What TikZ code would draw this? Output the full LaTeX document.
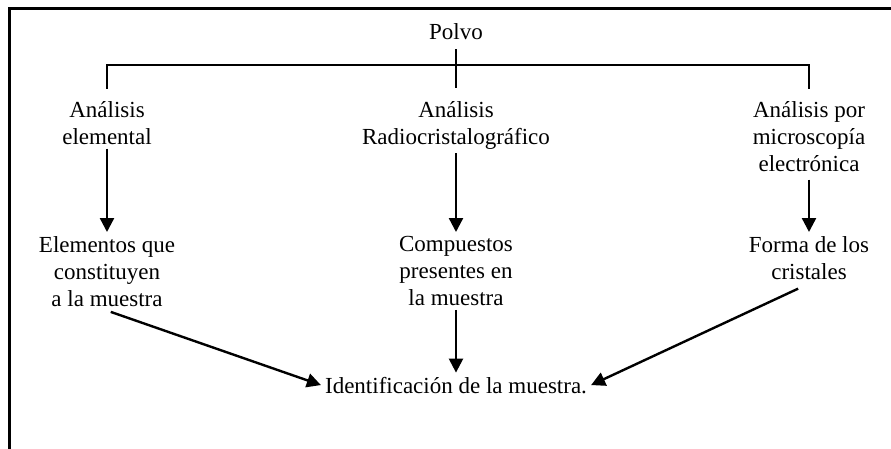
\documentclass[tikz,border=0pt]{standalone}
\usepackage{fontspec}
\setmainfont{Liberation Serif}
\usetikzlibrary{arrows.meta}
\tikzstyle{textnode} = [
    align=center,              % Centered lines
    inner sep=4pt,             % Gap to the arrows
    font=\fontsize{23}{27}\selectfont
]
\tikzstyle{arrow} = [line width=2.4pt, -{Triangle[length=14pt,width=14pt]}]
\tikzstyle{link} = [line width=2pt]
\begin{document}
\begin{tikzpicture}[x=1pt, y=-1pt]
		\useasboundingbox (0,0) rectangle (891,449);

		% Frame
		\draw[line width=3pt] (891,9) -- (9,9) -- (9,449);

		% Top-level sample
		\node[textnode, anchor=base] (polvo) at (456,40) {Polvo};

		% Analysis methods
		\node[textnode, anchor=north] (elem) at (107,97) {Análisis\\elemental};
		\node[textnode, anchor=north] (radio) at (456,97) {Análisis\\Radiocristalográfico};
		\node[textnode, anchor=north] (micro) at (809,97) {Análisis por\\microscopía\\electrónica};

		% Results
		\node[textnode, anchor=north] (elemres) at (107,232) {Elementos que\\constituyen\\a la muestra};
		\node[textnode, anchor=north] (radiores) at (456,232) {Compuestos\\presentes en\\la muestra};
		\node[textnode, anchor=north] (microres) at (809,232) {Forma de los\\cristales};

		% Identification
		\node[textnode, anchor=base] (ident) at (456,393) {Identificación de la muestra.};

		% Arrows
		\draw[link, shorten <=5pt, shorten >=9pt] (polvo.south) -- (polvo.south |- radio.north);
		\draw[link, shorten <=8pt, shorten >=8pt] (elem.north) -- ++(0,-32) -| (micro.north);

		\draw[arrow] (elem.south) -- (elemres.north);
		\draw[arrow] (radio.south) -- (radiores.north);
		\draw[arrow, shorten <=4pt] (micro.south) -- (microres.north);

		\draw[arrow, shorten <=4pt] (elemres.south) -- (ident.west);
		\draw[arrow] (radiores.south) -- (radiores.south |- ident.north);
		\draw[arrow, shorten <=12pt] (microres.south) -- (ident.east);
	\end{tikzpicture}
\end{document}
